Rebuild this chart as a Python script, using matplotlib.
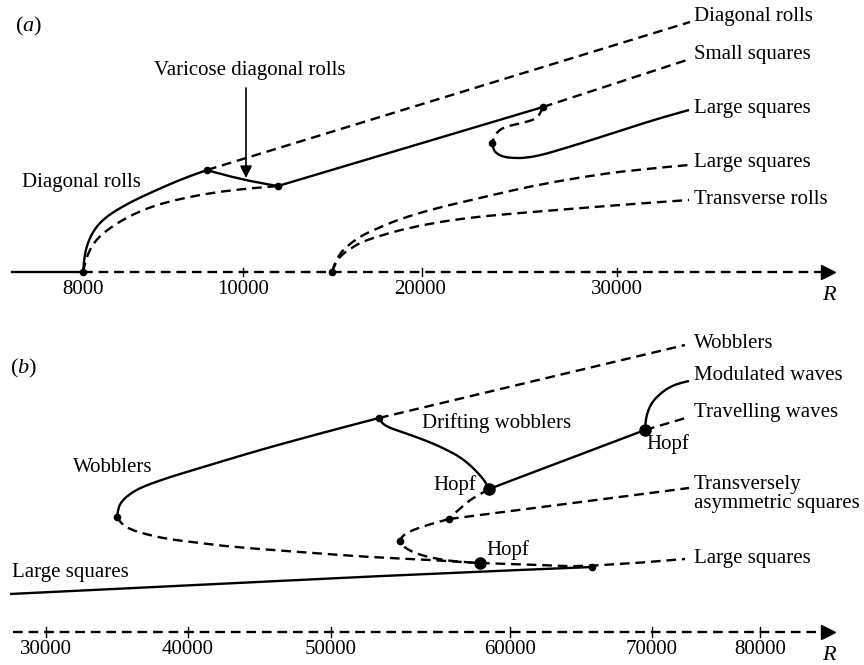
import matplotlib
matplotlib.use("Agg")
import matplotlib.pyplot as plt
from matplotlib.path import Path
from matplotlib.patches import PathPatch

plt.rcParams['font.family'] = ['Liberation Serif', 'DejaVu Serif']
plt.rcParams['mathtext.fontset'] = 'custom'
plt.rcParams['mathtext.rm'] = 'Liberation Serif'
plt.rcParams['mathtext.it'] = 'Liberation Serif:italic'
plt.rcParams['lines.scale_dashes'] = False

# ---------------- data (schematic positions, panel pixel frame) ----------------
# Panel (a)
a_axis_y = 272
a_tick_pos = [243, 422, 617]
a_tick_labels = ["8000", "10000", "20000", "30000"]
a_label_pos = [83, 243, 420, 617]

a_trivial_stable_x = [12, 83]
a_trivial_unstable_x = [83, 822]

a_diag_stable_x = [83, 84, 86, 89, 93, 98, 104, 112, 122, 135, 150, 168, 187, 207]
a_diag_stable_y = [272, 260, 249, 240, 232, 225, 219, 213, 207, 200, 193, 185, 177, 170]
a_diag_unstable_x = [207, 690]
a_diag_unstable_y = [170, 22]

a_var_x = [207, 240, 278]
a_var_y = [170, 180, 186]
a_lower_dash_x = [83, 85, 88, 92, 98, 106, 116, 128, 143, 160, 180, 210, 243, 267, 278]
a_lower_dash_y = [272, 263, 254, 246, 238, 231, 224, 217, 210, 204, 199, 193, 189, 187, 186]

a_ls_stable_x = [278, 543]
a_ls_stable_y = [186, 107]
a_small_sq_x = [543, 690]
a_small_sq_y = [107, 59]
a_hook_x = [543, 541, 537, 530, 517, 505, 498, 494, 492]
a_hook_y = [107, 112, 118, 121, 124, 127, 131, 137, 143]
a_ls_branch_x = [492, 493, 497, 504, 513, 525, 542, 562, 582, 607, 632, 660, 689]
a_ls_branch_y = [143, 149, 154, 157, 158, 158, 155, 149, 143, 135, 127, 118, 110]

a_ls2_x = [332, 334, 338, 343, 350, 358, 367, 383, 400, 433, 467, 497, 532, 582, 632, 689]
a_ls2_y = [272, 265, 257, 250, 244, 238, 233, 226, 219, 209, 201, 194, 186, 177, 170, 165]
a_tr_x = [332, 335, 339, 344, 350, 358, 367, 383, 400, 433, 467, 497, 532, 582, 632, 689]
a_tr_y = [272, 264, 258, 253, 249, 244, 240, 235, 230, 223, 218, 215, 212, 208, 204, 200]

a_dots_x = [83, 332, 207, 278, 543, 492]
a_dots_y = [272, 272, 170, 186, 107, 143]

a_right_labels = ["Diagonal rolls", "Small squares", "Large squares", "Large squares", "Transverse rolls"]
a_right_label_y = [17, 55, 108, 163, 200]

# Panel (b)
b_axis_y = 632
b_tick_pos = [46, 188, 331, 510, 652, 760]
b_tick_labels = ["30000", "40000", "50000", "60000", "70000", "80000"]

b_ls_stable_x = [10, 217, 432, 592]
b_ls_stable_y = [594, 584, 573.5, 567]
b_ls_unstable_x = [480, 540, 592, 685]
b_ls_unstable_y = [563, 565, 567, 559]

b_wob_lower_x = [117, 120, 125, 132, 145, 167, 200, 233, 300, 367, 432, 460, 480]
b_wob_lower_y = [517, 522, 526, 530, 534, 539, 543, 547, 552, 557, 560, 562, 563]
b_wob_upper_x = [117, 118, 120, 124, 130, 138, 150, 170, 200, 233, 267, 300, 333, 379]
b_wob_upper_y = [517, 510, 504, 499, 494, 489, 484, 477, 468, 458, 448, 439, 430, 418]
b_wob_unstable_x = [379, 685]
b_wob_unstable_y = [418, 345]

b_drift_x = [379, 381, 386, 393, 402, 416, 432, 447, 460, 470, 478, 484, 487, 489]
b_drift_y = [418, 422, 426, 429, 432, 437, 443, 450, 457, 465, 473, 480, 485, 489]
b_tw_stable_x = [489, 645]
b_tw_stable_y = [489, 430]
b_mod_x = [645, 645.5, 647, 650, 654, 659, 665, 672, 680, 689]
b_mod_y = [430, 422, 414, 406, 400, 395, 390, 386, 383, 381]
b_tw_unstable_x = [645, 689]
b_tw_unstable_y = [430, 417]

b_tas_upper_x = [489, 482, 465, 449]
b_tas_upper_y = [489, 493, 503, 519]
b_tas_x = [449, 689]
b_tas_y = [519, 488]
b_tas_fold_x = [449, 427, 413, 405, 401, 400, 402, 407, 417, 437, 460, 480]
b_tas_fold_y = [519, 525, 530, 534, 538, 541, 545, 549, 554, 559, 562, 563]

b_small_dots_x = [117, 379, 449, 400, 592]
b_small_dots_y = [517, 418, 519, 541, 567]
b_hopf_x = [480, 489, 645]
b_hopf_y = [563, 489, 430]

b_right_labels = ["Wobblers", "Modulated waves", "Travelling waves",
                  "Transversely\nasymmetric squares", "Large squares"]
b_right_label_y = [343, 376, 413, 494, 558]

# ---------------- drawing ----------------
fig = plt.figure(figsize=(8.64, 6.65), dpi=100)
ax = fig.add_axes([0, 0, 1, 1])
ax.set_xlim(0, 864)
ax.set_ylim(665, 0)
ax.axis('off')

LW = 1.7
DASH = (7.0, 4.2)
FS = 15
K = 'black'


def curve(x, y, dashed=False):
    """Smooth quadratic-Bezier rendering through the read points."""
    pts = list(zip(x, y))
    if len(pts) <= 2:
        verts, codes = pts, [Path.MOVETO, Path.LINETO]
    else:
        verts = [pts[0]]
        codes = [Path.MOVETO]
        for i in range(1, len(pts) - 1):
            mid = ((pts[i][0] + pts[i + 1][0]) / 2, (pts[i][1] + pts[i + 1][1]) / 2)
            if i == len(pts) - 2:
                mid = pts[-1]
            verts += [pts[i], mid]
            codes += [Path.CURVE3, Path.CURVE3]
    ls = (0, DASH) if dashed else '-'
    ax.add_patch(PathPatch(Path(verts, codes), fill=False, edgecolor=K, lw=LW,
                           linestyle=ls, capstyle='butt', joinstyle='round'))


def solid(x, y):
    curve(x, y, False)


def dashed(x, y):
    curve(x, y, True)


# axes lines
for ay in (a_axis_y, b_axis_y):
    ax.plot([828], [ay], marker='>', color=K, ms=10, mec=K)

ax.plot(a_trivial_stable_x, [a_axis_y] * 2, color=K, lw=LW)
dashed(a_trivial_unstable_x, [a_axis_y] * 2)
dashed([13, 822], [b_axis_y] * 2)

for tp in a_tick_pos:
    ax.plot([tp, tp], [a_axis_y - 4, a_axis_y + 4], color=K, lw=1.0)
for tp in b_tick_pos:
    ax.plot([tp, tp], [b_axis_y - 5, b_axis_y + 5], color=K, lw=1.0)

for lp, lab in zip(a_label_pos, a_tick_labels):
    ax.text(lp, 290, lab, fontsize=FS, ha='center', va='center')
for lp, lab in zip(b_tick_pos, b_tick_labels):
    ax.text(lp, 650, lab, fontsize=FS, ha='center', va='center')
ax.text(829, 295, "R", fontsize=16, style='italic', ha='center', va='center')
ax.text(829, 655, "R", fontsize=16, style='italic', ha='center', va='center')

ax.text(29, 26, r"($\mathit{a}$)", fontsize=16, ha='center', va='center')
ax.text(24, 368, r"($\mathit{b}$)", fontsize=16, ha='center', va='center')

# panel (a) curves
solid(a_diag_stable_x, a_diag_stable_y)
dashed(a_diag_unstable_x, a_diag_unstable_y)
solid(a_var_x, a_var_y)
dashed(a_lower_dash_x, a_lower_dash_y)
solid(a_ls_stable_x, a_ls_stable_y)
dashed(a_small_sq_x, a_small_sq_y)
dashed(a_hook_x, a_hook_y)
solid(a_ls_branch_x, a_ls_branch_y)
dashed(a_ls2_x, a_ls2_y)
dashed(a_tr_x, a_tr_y)
ax.plot(a_dots_x, a_dots_y, 'o', color=K, ms=4.5, ls='none')

for lab, ly in zip(a_right_labels, a_right_label_y):
    ax.text(694, ly, lab, fontsize=FS, ha='left', va='center')
ax.text(81, 183, "Diagonal rolls", fontsize=FS, ha='center', va='center')
ax.text(250, 71, "Varicose diagonal rolls", fontsize=FS, ha='center', va='center')
ax.annotate('', xy=(246, 178), xytext=(246, 88),
            arrowprops=dict(arrowstyle='-|>', color=K, lw=1.2, mutation_scale=18,
                            shrinkA=0, shrinkB=0))

# panel (b) curves
solid(b_ls_stable_x, b_ls_stable_y)
dashed(b_ls_unstable_x, b_ls_unstable_y)
dashed(b_wob_lower_x, b_wob_lower_y)
solid(b_wob_upper_x, b_wob_upper_y)
dashed(b_wob_unstable_x, b_wob_unstable_y)
solid(b_drift_x, b_drift_y)
solid(b_tw_stable_x, b_tw_stable_y)
solid(b_mod_x, b_mod_y)
dashed(b_tw_unstable_x, b_tw_unstable_y)
dashed(b_tas_upper_x, b_tas_upper_y)
dashed(b_tas_x, b_tas_y)
dashed(b_tas_fold_x, b_tas_fold_y)
ax.plot(b_small_dots_x, b_small_dots_y, 'o', color=K, ms=4.5, ls='none')
ax.plot(b_hopf_x, b_hopf_y, 'o', color=K, ms=8, ls='none')

for lab, ly in zip(b_right_labels, b_right_label_y):
    ax.text(694, ly, lab, fontsize=FS, ha='left', va='center', linespacing=0.95)
ax.text(113, 468, "Wobblers", fontsize=FS, ha='center', va='center')
ax.text(70, 573, "Large squares", fontsize=FS, ha='center', va='center')
ax.text(497, 423, "Drifting wobblers", fontsize=FS, ha='center', va='center')
ax.text(455, 485, "Hopf", fontsize=FS, ha='center', va='center')
ax.text(508, 550, "Hopf", fontsize=FS, ha='center', va='center')
ax.text(668, 444, "Hopf", fontsize=FS, ha='center', va='center')

fig.savefig("out.png", dpi=100)
